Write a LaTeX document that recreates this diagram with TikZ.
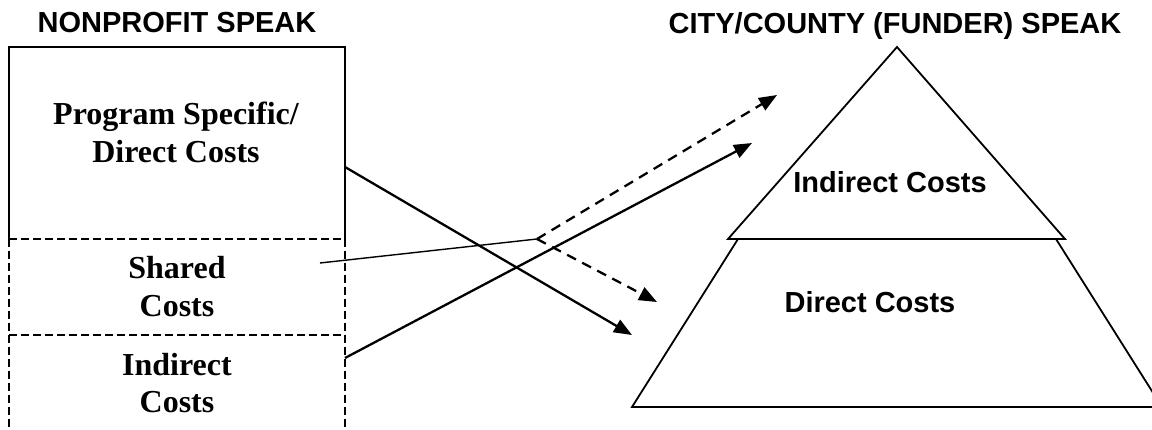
\documentclass[tikz,border=0pt]{standalone}
\usepackage{fontspec}
\setmainfont{Liberation Serif}
\newfontfamily\arialf{Liberation Sans}
\usetikzlibrary{arrows.meta}
\begin{document}
\begin{tikzpicture}[x=0.5pt,y=-0.5pt,
  titletext/.style={font=\arialf\bfseries\fontsize{14.5}{17}\selectfont, inner sep=0pt},
  pyrtext/.style={font=\arialf\bfseries\fontsize{14.5}{17}\selectfont, inner sep=0pt},
  boxtext/.style={font=\bfseries\fontsize{16}{19}\selectfont, inner sep=0pt, align=center},
  solidedge/.style={line width=1pt},
  dashededge/.style={line width=1pt, dash pattern=on 4pt off 2pt},
  conn/.style={line width=1.15pt, -{Triangle[length=9pt,width=7pt]}},
  dconn/.style={line width=1.15pt, dash pattern=on 5pt off 3.5pt, -{Triangle[length=9pt,width=7pt]}},
  thinconn/.style={line width=0.7pt}]
\useasboundingbox (0,0) rectangle (1152,429);

% titles
\node[titletext, anchor=base] (tleft) at (177,32) {NONPROFIT SPEAK};
\node[titletext, anchor=base] (tright) at (895,33) {CITY/COUNTY (FUNDER) SPEAK};

% left stacked boxes
\draw[solidedge] (9,239) -- (9,47) -- (345,47) -- (345,239);
\draw[dashededge] (9,239) -- (9,429);
\draw[dashededge] (345,239) -- (345,429);
\draw[dashededge] (9,239) -- (345,239);
\draw[dashededge] (9,335) -- (345,335);

\node[boxtext, anchor=base] (prog1) at (176,124) {Program Specific/};
\node[boxtext, anchor=base] (prog2) at (176,162) {Direct Costs};
\node[boxtext, anchor=base] (shar1) at (177,278) {Shared};
\node[boxtext, anchor=base] (shar2) at (177,316) {Costs};
\node[boxtext, anchor=base] (ind1) at (177,375) {Indirect};
\node[boxtext, anchor=base] (ind2) at (177,412) {Costs};

% pyramid
\begin{scope}
\clip (0,0) rectangle (1152,429);
\draw[line width=0.9pt, line join=miter] (738,239) -- (1056,239) -- (1162,407) -- (632,407) -- cycle;
\end{scope}
\draw[line width=0.9pt, fill=white] (897,47) -- (1065,239) -- (728,239) -- cycle;
\node[pyrtext, anchor=base] (pind) at (890,192) {Indirect Costs};
\node[pyrtext, anchor=base] (pdir) at (870,312) {Direct Costs};

% connector end points
\coordinate (progout) at (345,167);
\coordinate (indout) at (345,358);
\coordinate (sharout) at (320,263);
\coordinate (split) at (537,239);
\coordinate (dirin) at (632,335);
\coordinate (dirin2) at (657,302);
\coordinate (indin) at (752,143);
\coordinate (indin2) at (777,95);

% connectors
\draw[conn] (progout) -- (dirin);
\draw[conn] (indout) -- (indin);
\draw[thinconn] (sharout) -- (split);
\draw[dconn] (split) -- (indin2);
\draw[dconn] (split) -- (dirin2);
\end{tikzpicture}
\end{document}
